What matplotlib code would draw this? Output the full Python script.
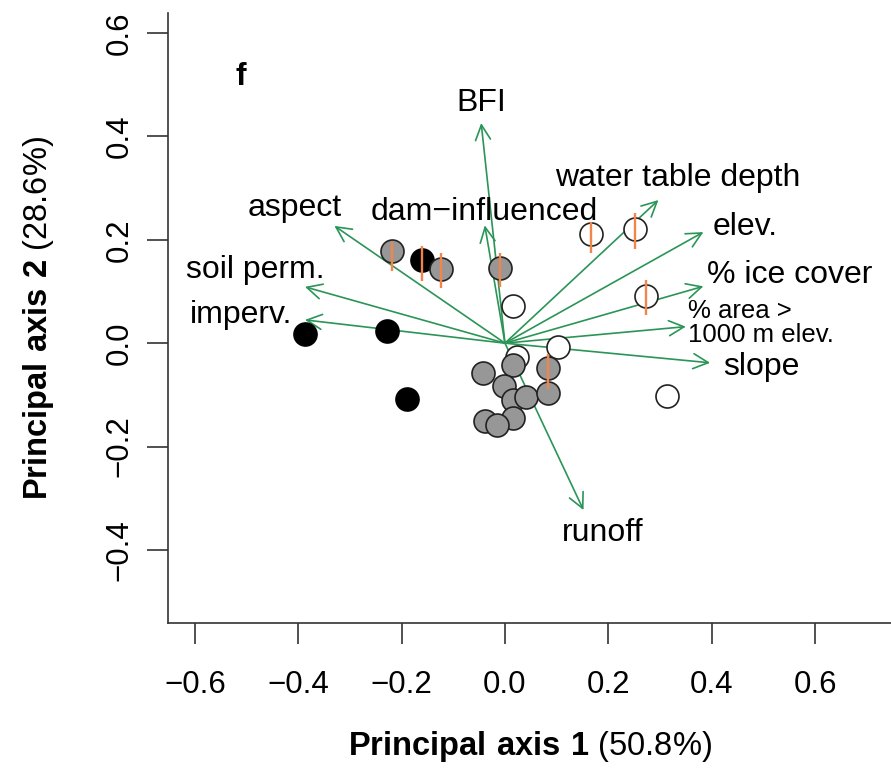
import matplotlib
matplotlib.use("Agg")
import matplotlib.pyplot as plt
import numpy as np

plt.rcParams['font.family'] = ['Liberation Sans', 'DejaVu Sans']
plt.rcParams['mathtext.fontset'] = 'custom'
plt.rcParams['mathtext.rm'] = 'Liberation Sans'
plt.rcParams['mathtext.bf'] = 'Liberation Sans:bold'

# site scores on the first two principal axes, by group
white_x = [0.016, 0.166, 0.252, 0.273, 0.103, 0.023, 0.313]
white_y = [0.072, 0.212, 0.220, 0.091, -0.007, -0.027, -0.103]
black_x = [-0.387, -0.228, -0.189, -0.160]
black_y = [0.017, 0.023, -0.108, 0.161]
gray_x = [-0.219, -0.124, -0.010, -0.043, 0.015, 0.084, -0.001, 0.016, 0.041, 0.084, 0.016, -0.039, -0.016]
gray_y = [0.178, 0.143, 0.145, -0.057, -0.043, -0.049, -0.083, -0.110, -0.105, -0.096, -0.145, -0.150, -0.158]

# vertical ranges drawn through some sites
bar_x = [-0.219, -0.160, -0.124, -0.010, 0.084, 0.166, 0.252, 0.273]
bar_lo = [0.140, 0.121, 0.106, 0.108, -0.088, 0.174, 0.183, 0.054]
bar_hi = [0.196, 0.188, 0.175, 0.175, -0.020, 0.235, 0.251, 0.122]

# variable loadings (arrow tips)
var_names = ["BFI", "dam\u2212influenced", "aspect", "soil perm.", "imperv.",
             "water table depth", "elev.", "% ice cover",
             "% area >\n1000 m elev.", "slope", "runoff"]
load_x = [-0.046, -0.039, -0.330, -0.387, -0.387, 0.297, 0.384, 0.384, 0.350, 0.397, 0.152]
load_y = [0.426, 0.228, 0.227, 0.109, 0.045, 0.277, 0.215, 0.110, 0.032, -0.038, -0.323]

# where each variable name sits
lab_pos = [(-0.046, 0.464), (-0.040, 0.254), (-0.406, 0.261), (-0.484, 0.141),
           (-0.511, 0.054), (0.335, 0.319), (0.465, 0.224), (0.550, 0.132),
           (0.354, 0.039), (0.497, -0.046), (0.190, -0.368)]

green = '#2A9556'
orange = '#F2854A'

fig = plt.figure(figsize=(8.91, 7.73), dpi=100)
ax = fig.add_axes([168 / 891, 1 - 622.7 / 773, 1 - 168 / 891, (622.7 - 13) / 773])

for tx, ty in zip(load_x, load_y):
    ax.annotate('', xy=(tx, ty), xytext=(0, 0),
                arrowprops=dict(arrowstyle='->,head_length=0.6,head_width=0.3',
                                color=green, lw=1.2, mutation_scale=18,
                                shrinkA=0, shrinkB=0))

for i, name in enumerate(var_names):
    px, py = lab_pos[i]
    if "\n" in name:
        ax.text(px, py, name, ha='left', va='center', fontsize=18.5,
                linespacing=0.95)
    else:
        ax.text(px, py, name, ha='center', va='center', fontsize=23)

ax.scatter(white_x, white_y, s=274, c='white', edgecolors='#222222', linewidths=1.2, zorder=3)
ax.scatter(black_x, black_y, s=274, c='black', edgecolors='black', linewidths=1.2, zorder=3)
ax.scatter(gray_x, gray_y, s=274, c='#979797', edgecolors='#222222', linewidths=1.2, zorder=3)
ax.vlines(bar_x, bar_lo, bar_hi, colors=orange, lw=1.7, zorder=4)

ax.text(-0.511, 0.515, "f", fontsize=23, fontweight='bold', ha='center', va='center')

ax.set_xlim(-0.652, 0.747)
ax.set_ylim(-0.541, 0.639)
ax.set_xticks(np.arange(-0.6, 0.61, 0.2))
ax.set_yticks(np.arange(-0.4, 0.61, 0.2))
ax.set_xticklabels(["\u22120.6", "\u22120.4", "\u22120.2", "0.0", "0.2", "0.4", "0.6"])
ax.set_yticklabels(["\u22120.4", "\u22120.2", "0.0", "0.2", "0.4", "0.6"])
ax.tick_params(length=15, width=1.2, color='#333333', labelsize=22.5)
ax.tick_params(axis='x', pad=19)
ax.tick_params(axis='y', pad=9, labelrotation=90)
for lab in ax.get_yticklabels():
    lab.set_va('center')

for s in ['top', 'right']:
    ax.spines[s].set_visible(False)
for s in ['left', 'bottom']:
    ax.spines[s].set_linewidth(1.2)
    ax.spines[s].set_color('#333333')

ax.set_xlabel(r"$\mathbf{Principal\ axis\ 1}$ (50.8%)", fontsize=23.5, labelpad=21)
ax.set_ylabel(r"$\mathbf{Principal\ axis\ 2}$ (28.6%)", fontsize=23.5, labelpad=35)

fig.savefig("out.png", dpi=100)
